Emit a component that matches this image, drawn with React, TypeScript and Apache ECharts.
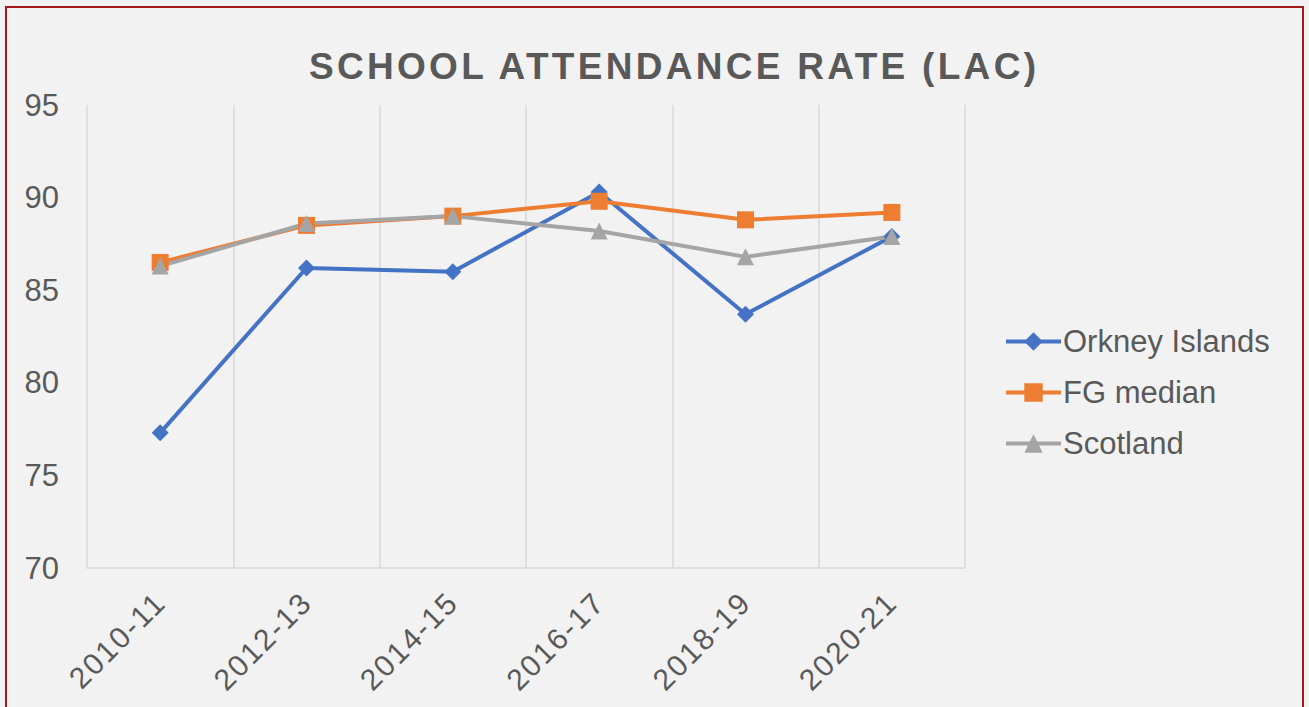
import React, { useEffect, useRef } from "react";
import * as echarts from "echarts";

const TITLE = "SCHOOL ATTENDANCE RATE (LAC)";
const categories = ["2010-11", "2012-13", "2014-15", "2016-17", "2018-19", "2020-21"];
const orkney = [77.3, 86.2, 86.0, 90.3, 83.7, 87.9];
const fgMedian = [86.5, 88.5, 89.0, 89.8, 88.8, 89.2];
const scotland = [86.3, 88.6, 89.0, 88.2, 86.8, 87.9];
const yTicks = [70, 75, 80, 85, 90, 95];

const FONT = "Liberation Sans, Arial, Helvetica, sans-serif";
const TEXT = "#595959";

export default function App() {
  const ref = useRef<HTMLDivElement>(null);
  useEffect(() => {
    if (!ref.current) return;
    const chart = echarts.init(ref.current, undefined, { renderer: "svg" });
    const mk = (name: string, data: number[], color: string, symbol: string, size: number) => ({
      name,
      type: "line",
      data,
      symbol,
      symbolSize: size,
      lineStyle: { color, width: 4 },
      itemStyle: { color },
      emphasis: { disabled: true },
    });
    chart.setOption({
      animation: false,
      backgroundColor: "#f2f2f2",
      grid: { left: 87, right: 344, top: 105, bottom: 139, containLabel: false },
      xAxis: {
        type: "category",
        data: categories,
        boundaryGap: true,
        axisLine: { show: true, lineStyle: { color: "#d9d9d9", width: 1.5 } },
        axisTick: { show: false },
        splitLine: { show: true, lineStyle: { color: "#d9d9d9", width: 1.5 } },
        axisLabel: {
          rotate: 45,
          margin: 29,
          color: TEXT,
          fontSize: 30,
          fontFamily: FONT,
          interval: 0,
        },
      },
      yAxis: {
        type: "value",
        min: yTicks[0],
        max: yTicks[yTicks.length - 1],
        interval: 5,
        axisLine: { show: false },
        axisTick: { show: false },
        splitLine: { show: false },
        axisLabel: { color: TEXT, fontSize: 31, fontFamily: FONT, margin: 28 },
      },
      legend: {
        orient: "vertical",
        left: 1004,
        top: 326,
        padding: 0,
        itemWidth: 55,
        itemHeight: 23,
        itemGap: 20,
        lineStyle: { width: 4 },
        textStyle: { color: TEXT, fontSize: 31, fontFamily: FONT, padding: [0, 0, 0, -3] },
        data: ["Orkney Islands", "FG median", "Scotland"],
      },
      graphic: [
        {
          type: "rect",
          shape: { x: 6, y: 7, width: 1297, height: 720 },
          style: { fill: "none", stroke: "#a31a1a", lineWidth: 2 },
          silent: true,
        },
        {
          type: "text",
          id: "title",
          style: {
            x: 309,
            y: 66,
            text: TITLE,
            fill: TEXT,
            font: `bold 37px ${FONT}`,
            textAlign: "left",
            textVerticalAlign: "middle",
          },
          silent: true,
        },
      ],
      series: [
        mk("Orkney Islands", orkney, "#4472c4", "diamond", 17),
        mk("FG median", fgMedian, "#ed7d31", "rect", 17),
        mk("Scotland", scotland, "#a5a5a5", "triangle", 17),
      ],
    });
    const applySpacing = () => {
      ref.current?.querySelectorAll("text").forEach((t) => {
        const el = t as SVGTextElement;
        if (t.textContent === TITLE) {
          el.setAttribute("letter-spacing", "3.3px");
          el.style.letterSpacing = "3.3px";
        } else if (categories.includes(t.textContent || "")) {
          el.setAttribute("letter-spacing", "2px");
          el.style.letterSpacing = "2px";
        }
      });
    };
    applySpacing();
    chart.on("finished", applySpacing);
    return () => chart.dispose();
  }, []);
  return (
    <div
      ref={ref}
      style={{ position: "fixed", left: 0, top: 0, width: 1309, height: 707, background: "#f2f2f2" }}
    />
  );
}
